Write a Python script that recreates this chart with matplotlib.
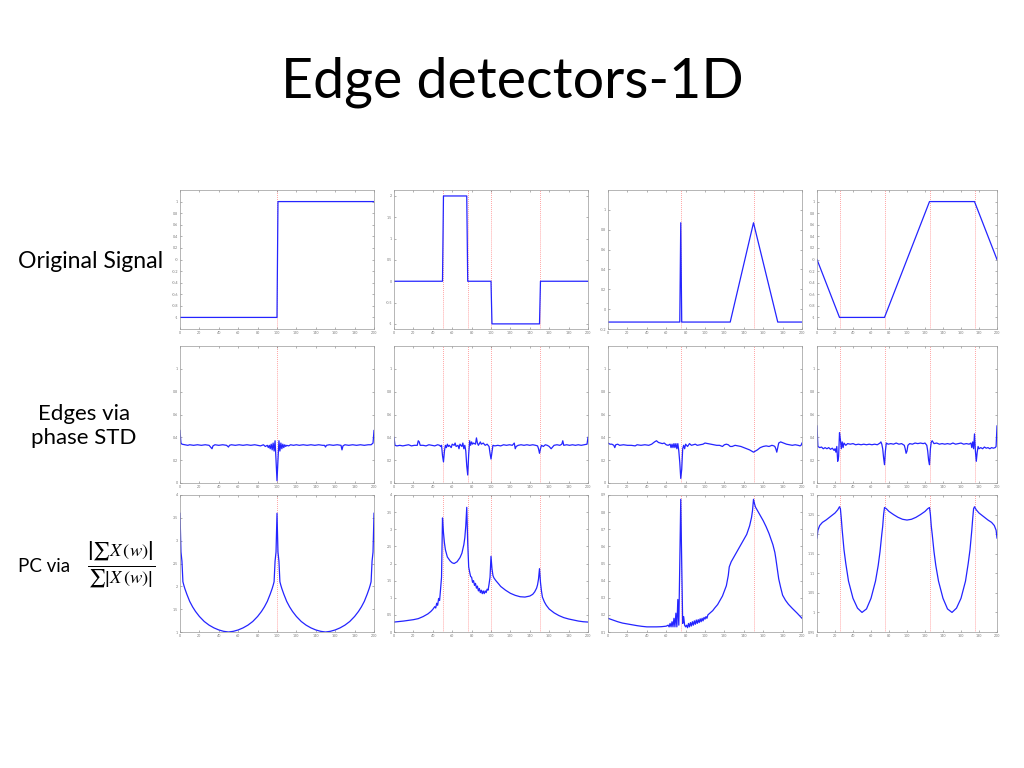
import matplotlib
matplotlib.use("Agg")
import matplotlib.pyplot as plt
from matplotlib.ticker import FuncFormatter
import numpy as np

plt.rcParams["font.family"] = ["Lato", "DejaVu Sans"]
plt.rcParams["mathtext.fontset"] = "stix"

# ---------------- data ----------------
# row 1: original signals (breakpoints)
sig_step = [(0, -1), (100, -1), (101, 1), (200, 1)]
sig_pulses = [(0, 0), (50, 0), (51, 2), (75, 2), (76, 0), (100, 0), (101, -1),
              (150, -1), (151, 0), (200, 0)]
sig_spike_tri = [(0, -0.13), (74, -0.13), (75, 0.87), (76, -0.13), (126, -0.13),
                 (150, 0.87), (175, -0.13), (200, -0.13)]
sig_trapez = [(0, 0), (25, -1), (75, -1), (125, 1), (175, 1), (200, 0)]

# row 2: edges via phase STD
std_step = [(0, 0.46), (1, 0.35), (2, 0.34), (5, 0.335), (8, 0.33), (10, 0.335), (14, 0.33),
            (18, 0.335), (22, 0.33), (26, 0.335), (30, 0.33), (33, 0.30), (34, 0.325), (36, 0.335),
            (40, 0.33), (44, 0.335), (48, 0.33), (50, 0.315), (51, 0.33), (53, 0.335), (57, 0.33),
            (61, 0.335), (65, 0.33), (69, 0.335), (73, 0.33), (77, 0.335), (80, 0.33), (83, 0.325),
            (86, 0.335), (88, 0.32), (90, 0.33), (91, 0.31), (92, 0.33), (93, 0.30), (94, 0.34),
            (95, 0.29), (96, 0.35), (97, 0.28), (98, 0.37), (99, 0.20), (100, 0.02), (101, 0.20),
            (102, 0.37), (103, 0.28), (104, 0.35), (105, 0.30), (106, 0.34), (107, 0.31),
            (108, 0.335), (109, 0.32), (110, 0.33), (112, 0.325), (114, 0.335), (117, 0.33),
            (120, 0.335), (123, 0.33), (127, 0.335), (131, 0.33), (135, 0.335), (139, 0.33),
            (143, 0.335), (147, 0.33), (149, 0.33), (150, 0.315), (151, 0.33), (154, 0.335),
            (158, 0.33), (162, 0.335), (166, 0.33), (167, 0.29), (168, 0.325), (170, 0.335),
            (174, 0.33), (178, 0.335), (182, 0.33), (186, 0.335), (190, 0.33), (194, 0.335),
            (197, 0.335), (199, 0.35), (200, 0.46)]
std_pulses = [(0, 0.40), (1, 0.33), (3, 0.325), (6, 0.33), (9, 0.325), (12, 0.33), (15, 0.335),
              (18, 0.325), (21, 0.33), (24, 0.33), (25, 0.37), (26, 0.36), (27, 0.33), (30, 0.33),
              (33, 0.325), (36, 0.335), (39, 0.33), (42, 0.325), (45, 0.335), (47, 0.33), (48, 0.32),
              (49, 0.33), (50, 0.24), (51, 0.185), (52, 0.28), (53, 0.33), (54, 0.31), (55, 0.34),
              (56, 0.32), (57, 0.33), (59, 0.31), (60, 0.34), (62, 0.33), (63, 0.35), (64, 0.32),
              (66, 0.33), (67, 0.30), (68, 0.34), (70, 0.32), (71, 0.35), (72, 0.30), (73, 0.33),
              (74, 0.28), (75, 0.15), (76, 0.07), (77, 0.25), (78, 0.37), (79, 0.33), (80, 0.36),
              (81, 0.34), (82, 0.35), (84, 0.34), (85, 0.395), (86, 0.35), (87, 0.33), (89, 0.36),
              (90, 0.34), (92, 0.35), (94, 0.33), (96, 0.34), (97, 0.33), (98, 0.32), (99, 0.26),
              (100, 0.21), (101, 0.27), (102, 0.33), (104, 0.325), (107, 0.33), (110, 0.325),
              (113, 0.335), (116, 0.33), (119, 0.335), (122, 0.33), (124, 0.35), (125, 0.30),
              (126, 0.32), (128, 0.33), (131, 0.335), (134, 0.33), (137, 0.335), (140, 0.33),
              (143, 0.335), (146, 0.33), (148, 0.325), (149, 0.30), (150, 0.26), (151, 0.30),
              (152, 0.33), (154, 0.32), (156, 0.335), (158, 0.33), (160, 0.32), (162, 0.30),
              (163, 0.31), (165, 0.33), (168, 0.335), (171, 0.33), (173, 0.34), (174, 0.37),
              (175, 0.33), (178, 0.335), (181, 0.33), (184, 0.335), (187, 0.33), (190, 0.335),
              (193, 0.33), (196, 0.335), (199, 0.34), (200, 0.40)]
std_spike_tri = [(0, 0.35), (2, 0.34), (4, 0.34), (6, 0.33), (7, 0.31), (8, 0.335), (10, 0.34),
                 (12, 0.33), (16, 0.335), (20, 0.33), (24, 0.33), (28, 0.325), (30, 0.335), (34, 0.33),
                 (38, 0.335), (42, 0.33), (45, 0.34), (48, 0.36), (50, 0.37), (52, 0.355), (54, 0.35),
                 (56, 0.345), (58, 0.35), (60, 0.335), (62, 0.33), (64, 0.34), (65, 0.31), (66, 0.34),
                 (67, 0.31), (68, 0.345), (69, 0.31), (70, 0.345), (71, 0.30), (72, 0.345), (73, 0.28),
                 (74, 0.18), (75, 0.04), (76, 0.12), (77, 0.30), (78, 0.33), (79, 0.30), (80, 0.34),
                 (82, 0.32), (84, 0.345), (86, 0.33), (88, 0.335), (90, 0.34), (92, 0.33), (95, 0.335),
                 (98, 0.34), (100, 0.35), (103, 0.345), (106, 0.34), (109, 0.335), (112, 0.33),
                 (115, 0.33), (118, 0.32), (120, 0.335), (122, 0.34), (124, 0.335), (126, 0.32),
                 (128, 0.32), (131, 0.33), (134, 0.325), (137, 0.32), (140, 0.31), (143, 0.30),
                 (146, 0.29), (148, 0.28), (150, 0.27), (152, 0.28), (154, 0.29), (157, 0.31),
                 (160, 0.32), (163, 0.325), (166, 0.32), (169, 0.33), (171, 0.325), (172, 0.32),
                 (173, 0.30), (174, 0.27), (175, 0.31), (176, 0.35), (178, 0.36), (181, 0.35),
                 (184, 0.34), (187, 0.335), (190, 0.33), (193, 0.335), (196, 0.33), (198, 0.325),
                 (199, 0.33), (200, 0.35)]
std_trapez = [(0, 0.50), (1, 0.32), (3, 0.31), (5, 0.315), (7, 0.30), (9, 0.31), (11, 0.30),
              (13, 0.31), (15, 0.295), (17, 0.305), (19, 0.285), (20, 0.30), (21, 0.27), (22, 0.32),
              (23, 0.19), (24, 0.23), (25, 0.44), (26, 0.38), (27, 0.30), (28, 0.36), (29, 0.31),
              (30, 0.35), (32, 0.33), (34, 0.345), (37, 0.34), (40, 0.345), (43, 0.335), (46, 0.34),
              (49, 0.335), (52, 0.34), (55, 0.335), (58, 0.34), (61, 0.335), (64, 0.34), (67, 0.335),
              (70, 0.35), (71, 0.36), (72, 0.34), (73, 0.30), (74, 0.22), (75, 0.16), (76, 0.28),
              (77, 0.35), (79, 0.34), (82, 0.345), (85, 0.34), (88, 0.35), (91, 0.34), (94, 0.345),
              (97, 0.33), (98, 0.30), (99, 0.26), (100, 0.28), (101, 0.33), (103, 0.345), (106, 0.34),
              (109, 0.35), (112, 0.345), (115, 0.35), (118, 0.345), (120, 0.35), (122, 0.33),
              (123, 0.28), (124, 0.20), (125, 0.16), (126, 0.30), (127, 0.36), (128, 0.37),
              (130, 0.345), (133, 0.35), (136, 0.34), (139, 0.345), (142, 0.34), (145, 0.345),
              (148, 0.34), (151, 0.35), (154, 0.34), (157, 0.345), (160, 0.35), (163, 0.34),
              (166, 0.345), (169, 0.34), (171, 0.35), (172, 0.31), (173, 0.36), (174, 0.30),
              (175, 0.43), (176, 0.28), (177, 0.19), (178, 0.27), (179, 0.32), (180, 0.30),
              (182, 0.31), (184, 0.30), (186, 0.315), (188, 0.305), (190, 0.31), (192, 0.30),
              (194, 0.31), (196, 0.305), (198, 0.31), (199, 0.32), (200, 0.50)]

# row 3: phase congruency
pc_step = [(0, 3.6), (1, 2.75), (2, 2.55), (3, 2.1), (4, 2.02), (5, 1.95), (7, 1.83), (10, 1.67),
           (13, 1.55), (16, 1.45), (20, 1.34), (25, 1.23), (30, 1.15), (35, 1.09), (40, 1.045),
           (45, 1.015), (50, 1.0), (55, 1.015), (60, 1.045), (65, 1.09), (70, 1.15), (75, 1.23),
           (80, 1.34), (84, 1.45), (87, 1.55), (90, 1.67), (93, 1.83), (95, 1.95), (96, 2.02),
           (97, 2.1), (98, 2.55), (99, 2.75), (100, 3.6), (101, 2.75), (102, 2.55), (103, 2.1),
           (104, 2.02), (105, 1.95), (107, 1.83), (110, 1.67), (113, 1.55), (116, 1.45), (120, 1.34),
           (125, 1.23), (130, 1.15), (135, 1.09), (140, 1.045), (145, 1.015), (150, 1.0),
           (155, 1.015), (160, 1.045), (165, 1.09), (170, 1.15), (175, 1.23), (180, 1.34),
           (184, 1.45), (187, 1.55), (190, 1.67), (193, 1.83), (195, 1.95), (196, 2.02), (197, 2.1),
           (198, 2.55), (199, 2.75), (200, 3.6)]
pc_pulses = [(0, 0.29), (10, 0.32), (20, 0.36), (25, 0.39), (30, 0.45), (35, 0.53), (38, 0.60),
             (40, 0.66), (42, 0.74), (43, 0.70), (44, 0.84), (45, 0.78), (46, 0.98), (47, 0.92),
             (48, 1.25), (49, 1.60), (50, 3.33), (51, 2.9), (52, 2.6), (53, 2.4), (55, 2.19),
             (58, 2.07), (60, 2.02), (62, 2.0), (65, 2.05), (68, 2.17), (70, 2.30), (72, 2.55),
             (73, 2.75), (74, 3.1), (75, 3.64), (76, 2.6), (77, 1.9), (78, 1.75), (79, 1.62),
             (80, 1.6), (81, 1.45), (82, 1.5), (83, 1.36), (84, 1.42), (85, 1.28), (86, 1.34),
             (87, 1.2), (88, 1.27), (89, 1.15), (90, 1.22), (91, 1.12), (92, 1.2), (93, 1.12),
             (94, 1.2), (95, 1.15), (96, 1.25), (97, 1.22), (98, 1.4), (99, 1.6), (100, 2.21),
             (101, 1.85), (102, 1.65), (103, 1.58), (105, 1.5), (108, 1.4), (110, 1.33), (115, 1.22),
             (120, 1.13), (125, 1.07), (130, 1.03), (135, 1.02), (140, 1.05), (143, 1.1),
             (145, 1.17), (147, 1.28), (148, 1.38), (149, 1.55), (150, 1.85), (151, 1.45),
             (152, 1.2), (153, 1.02), (154, 0.95), (155, 0.88), (157, 0.78), (160, 0.67),
             (165, 0.56), (170, 0.48), (175, 0.42), (180, 0.38), (185, 0.35), (190, 0.32),
             (195, 0.30), (200, 0.29)]
pc_spike_tri = [(0, 0.18), (5, 0.17), (10, 0.16), (15, 0.152), (20, 0.147), (25, 0.142),
                (30, 0.137), (35, 0.133), (40, 0.13), (45, 0.13), (50, 0.13), (55, 0.131),
                (60, 0.134), (62, 0.14), (63, 0.13), (64, 0.15), (65, 0.13), (66, 0.16), (67, 0.13),
                (68, 0.18), (69, 0.13), (70, 0.21), (71, 0.13), (72, 0.29), (73, 0.14), (74, 0.5),
                (75, 0.875), (76, 0.5), (77, 0.15), (78, 0.19), (79, 0.14), (80, 0.13), (81, 0.14),
                (82, 0.125), (83, 0.15), (84, 0.13), (85, 0.155), (86, 0.135), (87, 0.16), (88, 0.14),
                (89, 0.165), (90, 0.145), (91, 0.17), (92, 0.15), (93, 0.172), (94, 0.155),
                (95, 0.177), (96, 0.16), (97, 0.18), (98, 0.165), (99, 0.185), (100, 0.175),
                (101, 0.19), (102, 0.18), (103, 0.20), (105, 0.21), (108, 0.225), (110, 0.24),
                (113, 0.26), (115, 0.28), (118, 0.31), (120, 0.34), (122, 0.37), (124, 0.43),
                (125, 0.48), (127, 0.51), (130, 0.54), (135, 0.59), (140, 0.64), (143, 0.67),
                (146, 0.72), (148, 0.77), (149, 0.81), (150, 0.875), (151, 0.85), (152, 0.83),
                (155, 0.80), (158, 0.77), (160, 0.75), (163, 0.715), (166, 0.675), (170, 0.61),
                (172, 0.565), (173, 0.53), (174, 0.49), (175, 0.45), (176, 0.41), (178, 0.36),
                (180, 0.315), (183, 0.285), (186, 0.262), (190, 0.238), (195, 0.21), (200, 0.18)]
pc_trapez = [(0, 1.19), (1, 1.21), (3, 1.222), (6, 1.23), (10, 1.236), (15, 1.245), (20, 1.254),
             (23, 1.262), (25, 1.27), (26, 1.265), (27, 1.24), (28, 1.21), (30, 1.16), (32, 1.125),
             (35, 1.08), (40, 1.036), (45, 1.011), (50, 1.0), (55, 1.009), (60, 1.036), (65, 1.08),
             (68, 1.12), (70, 1.155), (72, 1.2), (73, 1.22), (74, 1.25), (75, 1.268), (77, 1.265),
             (80, 1.258), (85, 1.25), (90, 1.243), (95, 1.238), (100, 1.236), (105, 1.238),
             (110, 1.243), (115, 1.25), (120, 1.258), (123, 1.265), (125, 1.268), (126, 1.25),
             (127, 1.22), (128, 1.2), (130, 1.155), (132, 1.12), (135, 1.08), (140, 1.036),
             (145, 1.009), (150, 1.0), (155, 1.011), (160, 1.036), (165, 1.08), (168, 1.125),
             (170, 1.16), (172, 1.21), (173, 1.24), (174, 1.265), (175, 1.27), (177, 1.262),
             (180, 1.254), (185, 1.245), (190, 1.236), (194, 1.23), (197, 1.222), (199, 1.21),
             (200, 1.19)]

# edge locations (red dotted lines) per column
edges = [[100], [50, 76, 100, 150], [75, 150], [26, 76, 125, 175]]

rows = [[sig_step, sig_pulses, sig_spike_tri, sig_trapez],
        [std_step, std_pulses, std_spike_tri, std_trapez],
        [pc_step, pc_pulses, pc_spike_tri, pc_trapez]]

ylims = [[(-1.2, 1.2), (-1.12, 2.14), (-0.2, 1.2), (-1.2, 1.2)],
         [(0, 1.2), (0, 1.2), (0, 1.2), (0, 1.2)],
         [(1, 4), (0, 4), (0.1, 0.9), (0.95, 1.3)]]
yticks = [[np.arange(-1, 1.01, 0.2), np.arange(-1, 2.01, 0.5),
           np.arange(-0.2, 1.01, 0.2), np.arange(-1, 1.01, 0.2)],
          [np.arange(0, 1.01, 0.2)] * 4,
          [np.arange(1, 4.01, 0.5), np.arange(0, 4.01, 0.5),
           np.arange(0.1, 0.91, 0.1), np.arange(0.95, 1.301, 0.05)]]

# ---------------- layout ----------------
W, H = 1024, 768
fig = plt.figure(figsize=(W / 100, H / 100), dpi=100)
fig.patch.set_facecolor("white")

col_px = [(180, 194), (394, 194), (608, 194), (817, 180)]   # left, width
row_px = [(190, 329), (346, 483), (495, 632)]               # top, bottom

fmt = FuncFormatter(lambda v, p: "%g" % round(v, 3))

for r, (top, bot) in enumerate(row_px):
    for c, (left, wid) in enumerate(col_px):
        ax = fig.add_axes([left / W, 1 - bot / H, wid / W, (bot - top) / H])
        xs, ys = np.array(rows[r][c], dtype=float).T
        for e in edges[c]:
            ax.axvline(e, color="#ff3030", ls=":", lw=0.55, alpha=0.7, zorder=1)
        ax.plot(xs, ys, color="#2424ff", lw=0.9, zorder=2)
        ax.set_xlim(0, 200)
        ax.set_ylim(*ylims[r][c])
        ax.set_yticks(yticks[r][c])
        ax.set_xticks(np.arange(0, 201, 20))
        ax.yaxis.set_major_formatter(fmt)
        ax.tick_params(direction="in", length=1.5, width=0.4, labelsize=2.6,
                       colors="#777777", pad=1.5, top=True, right=True)
        for s in ax.spines.values():
            s.set_color("#999999")
            s.set_linewidth(0.5)

# ---------------- text ----------------
fig.text(0.5, 1 - 82 / H, "Edge detectors-1D", ha="center", va="center",
         fontsize=40, color="black")
fig.text(18 / W, 1 - 262 / H, "Original Signal", ha="left", va="center", fontsize=16.6)
fig.text(84 / W, 1 - 426 / H, "Edges via\nphase STD", ha="center", va="center",
         fontsize=16, linespacing=1.3)
fig.text(18 / W, 1 - 567 / H, "PC via", ha="left", va="center", fontsize=13.5)
fig.text(121 / W, 1 - 565 / H,
         r"$\frac{\left|\sum X\,(w)\right|}{\sum\left|X\,(w)\right|}$",
         ha="center", va="center", fontsize=19)

fig.savefig("out.png", dpi=100)
